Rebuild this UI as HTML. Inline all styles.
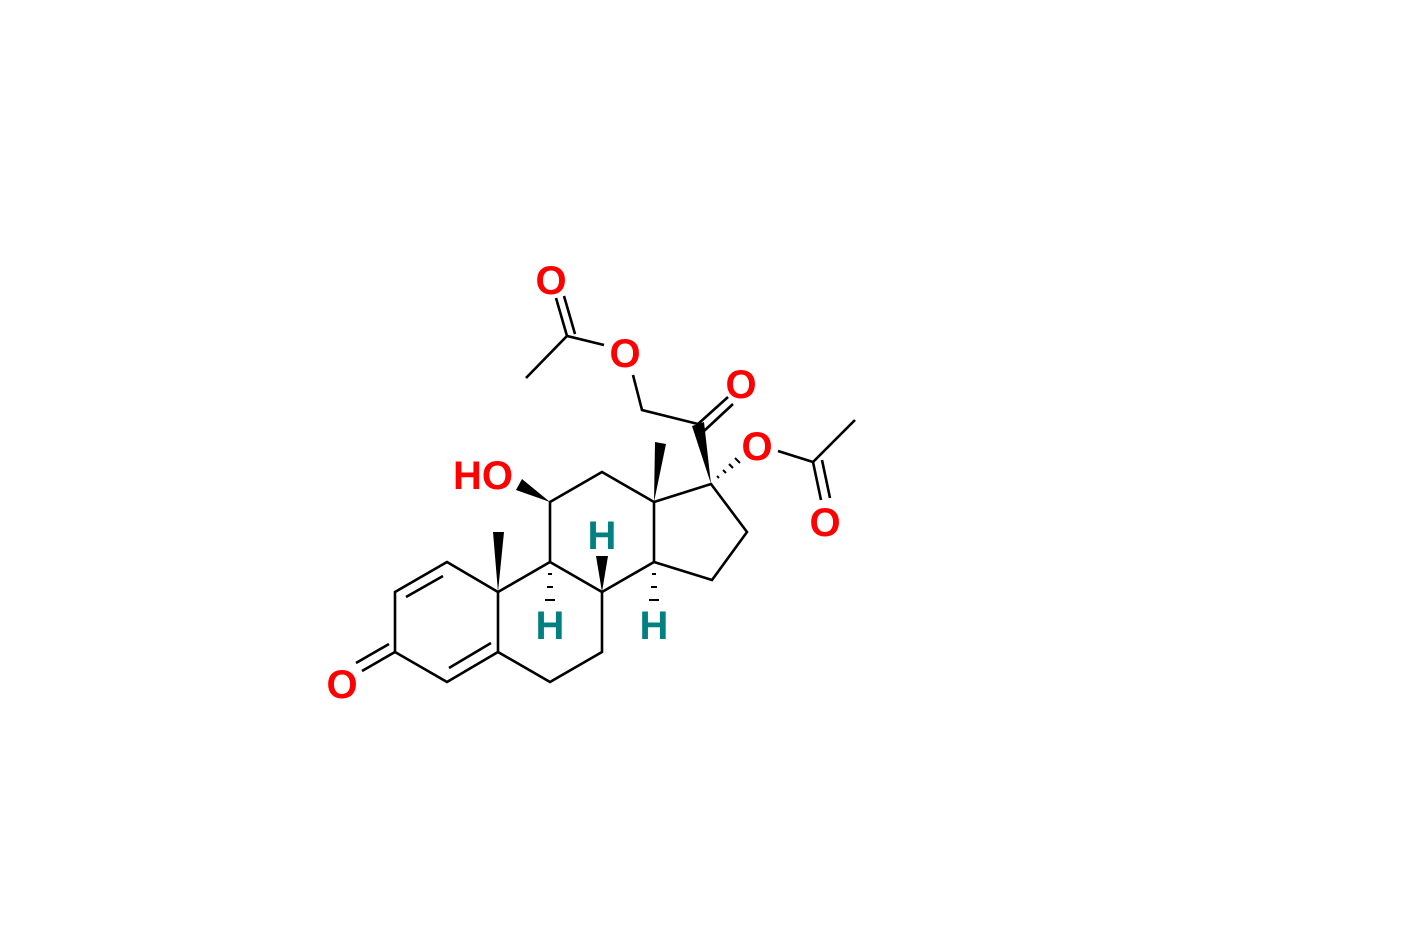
<!DOCTYPE html>
<html><head><style>body{margin:0;background:#fff}svg{display:block}</style></head><body>
<svg width="1402" height="935" viewBox="0 0 1402 935" xmlns="http://www.w3.org/2000/svg">
<g stroke="#000" stroke-width="2.6" fill="none" stroke-linecap="butt">
<path d="M447,562 L395,592 L395,652 L447,682 L498,652 L498,592 Z"/>
<path d="M443,576 L406,597"/>
<path d="M449,668 L491,643"/>
<path d="M395,652 L362,671"/>
<path d="M389,644 L356,663"/>
<path d="M498,652 L550,682 L602,652 L602,592 L550,562 L498,592"/>
<path d="M550,562 L550,502 L602,472 L654,502 L654,562 L602,592"/>
<path d="M654,502 L711,484 L747,532 L712,580 L654,562"/>
<path d="M698,424 L642,410 L633,375"/>
<path d="M604,345 L567,336 L526,378"/>
<path d="M567,336 L556,298"/>
<path d="M575,334 L564,296"/>
<path d="M698,424 L728,397"/>
<path d="M704,431 L733,404"/>
<path d="M778,451 L813,462 L855,420"/>
<path d="M813,462 L821,500"/>
<path d="M822,460 L830,498"/>
</g>
<g fill="#000">
<polygon points="498,592 493,532 504,532"/>
<polygon points="654,502 655,442 666,444"/>
<polygon points="550,502 516,490 522,479"/>
<polygon points="602,592 596,556 608,556"/>
<polygon points="711,484 692,426 704,422"/>
</g>
<g stroke="#000" stroke-width="2">
<path d="M548,574 h4 M547,587 h6 M545,600 h10"/>
<path d="M652,574 h4 M651,587 h6 M649,600 h10"/>
<path d="M717,476 l2,2 M723,470 l3,3 M729,464 l4,4 M735,458 l5,5"/>
</g>
<g font-family="'Liberation Sans', sans-serif" font-weight="bold" font-size="40" text-anchor="middle">
<text x="342" y="698" fill="#f00">O</text>
<text x="483" y="489" fill="#f00">HO</text>
<text x="551" y="294" fill="#f00">O</text>
<text x="625" y="367" fill="#f00">O</text>
<text x="741" y="398" fill="#f00">O</text>
<text x="757" y="460" fill="#f00">O</text>
<text x="825" y="536" fill="#f00">O</text>
<text x="602" y="549" fill="#008080">H</text>
<text x="550" y="639" fill="#008080">H</text>
<text x="654" y="639" fill="#008080">H</text>
</g>
</svg>
</body></html>
